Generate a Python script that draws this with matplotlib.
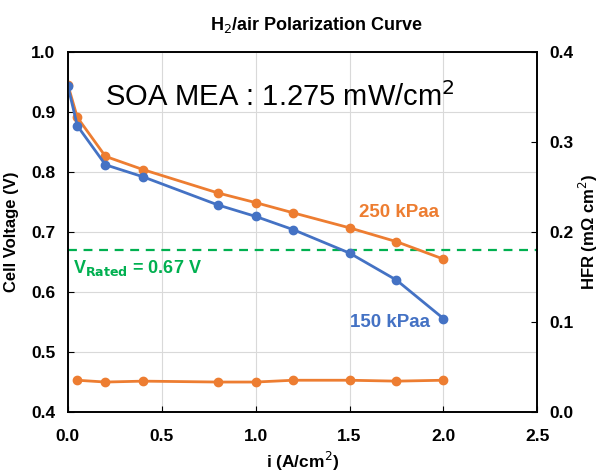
import matplotlib
matplotlib.use("Agg")
import matplotlib.pyplot as plt

plt.rcParams["font.family"] = ["Liberation Sans", "DejaVu Sans"]

# current density (A/cm2)
current = [0.0, 0.05, 0.2, 0.4, 0.8, 1.0, 1.2, 1.5, 1.75, 2.0]
# cell voltage (V)
v_150 = [0.943, 0.877, 0.812, 0.792, 0.745, 0.726, 0.704, 0.665, 0.620, 0.556]
v_250 = [0.945, 0.891, 0.826, 0.804, 0.765, 0.749, 0.732, 0.707, 0.684, 0.655]
# HFR (mOhm cm2)
hfr_current = [0.05, 0.2, 0.4, 0.8, 1.0, 1.2, 1.5, 1.75, 2.0]
hfr_250 = [0.0355, 0.0335, 0.0345, 0.0335, 0.0335, 0.0355, 0.0355, 0.0345, 0.0355]
v_rated = 0.67

orange = "#ED7D31"
blue = "#4472C4"
green = "#00B050"

fig = plt.figure(figsize=(6.01, 4.76), dpi=100)
ax = fig.add_axes([0.113, 0.134, 0.781, 0.757])
ax2 = ax.twinx()

ax.plot(current, v_250, color=orange, lw=2, marker="o", ms=6, zorder=3)
ax.plot(current, v_150, color=blue, lw=2, marker="o", ms=6, zorder=4)
ax.axhline(v_rated, color=green, lw=1.6, ls=(0, (4, 3)), zorder=2)
ax2.plot(hfr_current, hfr_250, color=orange, lw=2, marker="o", ms=6)

ax.set_xlim(0, 2.5)
ax.set_ylim(0.4, 1.0)
ax2.set_ylim(0.0, 0.4)
ax.set_xticks([0.0, 0.5, 1.0, 1.5, 2.0, 2.5])
ax.set_yticks([0.4, 0.5, 0.6, 0.7, 0.8, 0.9, 1.0])
ax2.set_yticks([0.0, 0.1, 0.2, 0.3, 0.4])
ax.grid(True, color="#D9D9D9", lw=0.8)
ax.set_axisbelow(True)

for a in (ax, ax2):
    a.tick_params(direction="in", length=4, labelsize=12.5, pad=9)
    for lbl in a.get_xticklabels() + a.get_yticklabels():
        lbl.set_fontweight("bold")
    for s in a.spines.values():
        s.set_linewidth(1.2)
ax.tick_params(axis="x", pad=12)

ax.set_title("H$_2$/air Polarization Curve", fontsize=13, fontweight="bold",
             pad=16, x=0.53)
ax.set_xlabel("i (A/cm$^2$)", fontsize=12.5, fontweight="bold", labelpad=4)
ax.set_ylabel("Cell Voltage (V)", fontsize=12, fontweight="bold")
ax.yaxis.set_label_coords(-0.105, 0.5)
ax2.set_ylabel("HFR (m\u03a9 cm$^2$)", fontsize=12, fontweight="bold")
ax2.yaxis.set_label_coords(1.085, 0.5)

ax.text(0.08, 0.875, "SOA MEA : 1.275 mW/cm$^2$", transform=ax.transAxes,
        fontsize=21, va="center", ha="left")
ax.text(1.764, 0.733, "250 kPaa", color=orange, fontsize=13.5, fontweight="bold",
        ha="center", va="center")
ax.text(1.716, 0.55, "150 kPaa", color=blue, fontsize=13.5, fontweight="bold",
        ha="center", va="center")
ax.text(0.025, 0.64, "V$_{\\mathbf{Rated}}$ = 0.67 V", color=green, fontsize=13,
        fontweight="bold", ha="left", va="center")

fig.savefig("out.png", dpi=100)
